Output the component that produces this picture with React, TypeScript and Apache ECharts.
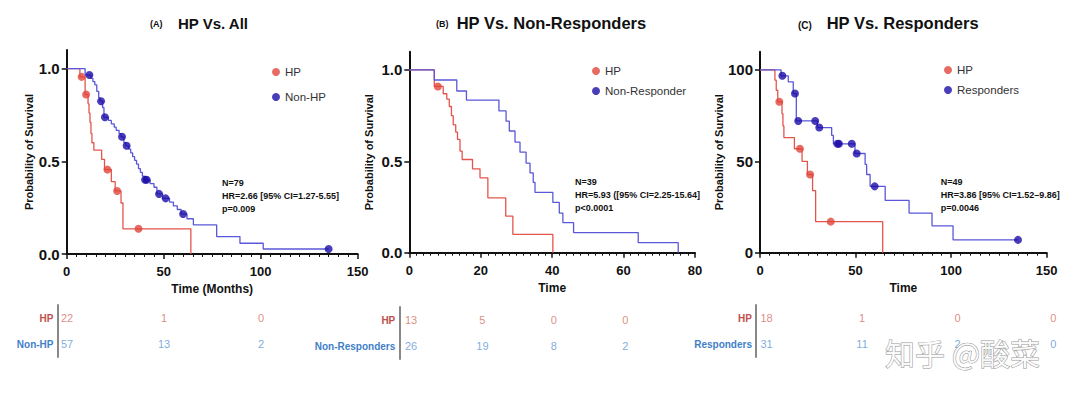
import React, { useEffect, useRef } from "react";
import * as echarts from "echarts";

const FONT = '"Liberation Sans", Arial, Helvetica, sans-serif';

// ---------- Panel A: HP vs All ----------
const aHpCurve = [[0,1],[6.8,0.955],[9.5,0.86],[11,0.81],[11.5,0.76],[12,0.71],[12.5,0.65],[13,0.60],[14,0.56],[18,0.51],[19.5,0.455],[23,0.39],[25,0.34],[28,0.275],[29,0.136],[64,0]];
const aHpCensor = [[7.7,0.955],[10,0.86],[21,0.455],[26,0.34],[37,0.136]];
const aNonHpCurve = [[0,1],[9.5,0.965],[12.5,0.947],[13.5,0.93],[14.5,0.912],[15.5,0.877],[16.5,0.842],[17.2,0.824],[18.5,0.79],[19.2,0.737],[21.5,0.72],[23,0.702],[24.5,0.684],[25.5,0.667],[27,0.649],[28,0.632],[29.5,0.6],[30.5,0.584],[32,0.565],[33,0.545],[34,0.525],[35,0.505],[36,0.485],[37,0.46],[38,0.44],[39,0.42],[40,0.40],[43,0.38],[45,0.36],[46.5,0.324],[49.5,0.30],[53,0.28],[55,0.26],[57,0.24],[59,0.216],[62,0.19],[65.3,0.157],[77.3,0.094],[89.3,0.058],[101.3,0.027],[135,0.027]];
const aNonHpCensor = [[11.7,0.965],[17.7,0.824],[19.7,0.737],[28.5,0.632],[30.9,0.584],[40.4,0.40],[41.2,0.40],[47.6,0.324],[51,0.30],[60,0.216],[135,0.027]];
const riskTimesA = [0, 50, 100];
const riskA_HP = [22, 1, 0];
const riskA_NonHP = [57, 13, 2];

// ---------- Panel B: HP vs Non-Responders ----------
const bHpCurve = [[0,1],[7,0.91],[9.5,0.87],[10.5,0.84],[11.2,0.80],[11.8,0.75],[12.3,0.70],[13,0.66],[13.5,0.62],[14.2,0.556],[14.8,0.51],[17.7,0.459],[19.8,0.41],[22,0.30],[27,0.20],[29,0.10],[40.2,0]];
const bHpCensor = [[8,0.91]];
const bNonRespCurve = [[0,1],[7,0.945],[13.3,0.885],[16,0.835],[25.1,0.776],[27.1,0.72],[28,0.666],[29.6,0.605],[31,0.55],[32.7,0.49],[33.8,0.437],[34.7,0.385],[35.2,0.33],[40.2,0.275],[42,0.217],[43,0.165],[46,0.11],[64.1,0.055],[75.3,0]];
const riskTimesB = [0, 20, 40, 60];
const riskB_HP = [13, 5, 0, 0];
const riskB_NonResp = [26, 19, 8, 2];

// ---------- Panel C: HP vs Responders ----------
const cHpCurve = [[0,100],[7.8,94.4],[8.5,88.9],[9.3,82.6],[11.5,76],[12,69.4],[12.5,63],[18,56.9],[22,50],[24.8,42.8],[27.5,34],[29.1,17],[64.2,0]];
const cHpCensor = [[10.1,82.6],[20.9,56.9],[26.2,42.8],[37,17]];
const cRespCurve = [[0,100],[11,96.8],[14.8,93.5],[17.4,87.1],[19,72.1],[30,68.5],[37.5,64.2],[38.4,59.6],[49.7,54.3],[55,48.3],[55.8,42.8],[57.6,36.3],[65.5,28.6],[78,21.7],[90,14.7],[101,7],[135,7]];
const cRespCensor = [[11.7,96.8],[18.3,87.1],[20,72.1],[28.9,72.1],[31,68.5],[40.5,59.6],[41.3,59.6],[48,59.6],[50.6,54.3],[60,36.3],[135,7]];
const riskTimesC = [0, 50, 100, 150];
const riskC_HP = [18, 1, 0, 0];
const riskC_Resp = [31, 11, 2, 0];

const RED_LINE = "#e5544b";
const RED_MARK = "#e0463c";
const BLUE_LINE = "#5a58d8";
const BLUE_MARK = "#1c0ca8";
const RISK_RED_LABEL = "#c0504d";
const RISK_RED_NUM = "#d4705f";
const RISK_BLUE_LABEL = "#3f7fc8";
const RISK_BLUE_NUM = "#5b95d6";

function plotX(grid: number, max: number, interval: number, minorSplit: number, name: string) {
  return {
    gridIndex: grid, type: "value", min: 0, max, interval,
    axisLine: { show: true, onZero: false, lineStyle: { color: "#111", width: 2 } },
    axisTick: { show: true, length: 5, lineStyle: { color: "#111", width: 1.5 } },
    minorTick: { show: true, splitNumber: minorSplit, length: 3, lineStyle: { color: "#111", width: 1 } },
    splitLine: { show: false }, minorSplitLine: { show: false },
    axisLabel: { fontSize: 13, fontWeight: "bold", color: "#111", margin: 11, fontFamily: FONT },
    name, nameLocation: "middle", nameGap: 28,
    nameTextStyle: { fontSize: 12, fontWeight: "bold", color: "#111", fontFamily: FONT },
  };
}

function plotY(grid: number, max: number, ticks: number[], dec: number, gap: number) {
  return {
    gridIndex: grid, type: "value", min: 0, max,
    axisLine: { show: true, onZero: false, lineStyle: { color: "#111", width: 2 } },
    axisTick: { show: true, length: 5, customValues: ticks, lineStyle: { color: "#111", width: 1.5 } },
    splitLine: { show: false },
    axisLabel: {
      customValues: ticks, formatter: (v: number) => v.toFixed(dec),
      fontSize: 15, fontWeight: "bold", color: "#111", margin: 7, fontFamily: FONT,
    },
    name: "Probability of Survival", nameLocation: "middle", nameGap: gap,
    nameTextStyle: { fontSize: 11, fontWeight: "bold", color: "#111", fontFamily: FONT },
  };
}

function riskX(grid: number, max: number) {
  return { gridIndex: grid, type: "value", min: 0, max, show: false };
}

function riskY(grid: number, labels: string[], offset: number) {
  return {
    gridIndex: grid, type: "category", data: labels, inverse: true, offset,
    axisLine: { show: true, onZero: false, lineStyle: { color: "#888", width: 2 } },
    axisTick: { show: false },
    splitLine: { show: false },
    axisLabel: {
      margin: 4, fontSize: 10, fontWeight: "bold", fontFamily: FONT,
      color: (v: string) => (v === "HP" ? RISK_RED_LABEL : RISK_BLUE_LABEL),
    },
  };
}

function curve(axis: number, data: number[][], color: string) {
  return {
    type: "line", xAxisIndex: axis, yAxisIndex: axis, data, step: "end",
    symbol: "none", lineStyle: { color, width: 1.3 }, silent: true, z: 2,
  };
}

function marks(axis: number, name: string, data: number[][], color: string) {
  return {
    type: "scatter", name, xAxisIndex: axis, yAxisIndex: axis, data,
    symbol: "circle", symbolSize: 8, itemStyle: { color }, silent: true, z: 3,
  };
}

function riskSeries(axis: number, times: number[], row: number, nums: number[], color: string) {
  return {
    type: "scatter", xAxisIndex: axis, yAxisIndex: axis,
    data: times.map((t, i) => [t, row, nums[i]]),
    symbol: "circle", symbolSize: 0.1, itemStyle: { color: "rgba(0,0,0,0)" }, silent: true,
    label: {
      show: true, position: "inside", color, fontSize: 11, fontFamily: FONT,
      formatter: (p: any) => String(p.value[2]),
    },
  };
}

function legend(left: number, top: number, gap: number, names: string[]) {
  return {
    data: names.map((n) => ({ name: n, icon: "circle" })),
    orient: "vertical", left, top, itemWidth: 8, itemHeight: 8, itemGap: gap,
    selectedMode: false,
    textStyle: { fontSize: 11.5, color: "#333", fontFamily: FONT },
  };
}

function txt(x: number, y: number, text: string, size: number, weight: string, extra: any = {}) {
  return {
    type: "text", x, y, silent: true,
    style: {
      text, fontSize: size, fontWeight: weight, fontFamily: FONT, fill: "#111",
      align: "left", verticalAlign: "middle", ...extra,
    },
  };
}

export default function App() {
  const ref = useRef<HTMLDivElement>(null);
  useEffect(() => {
    document.body.style.margin = "0";
    const chart = echarts.init(ref.current!, null, { renderer: "svg" });
    const option: any = {
      animation: false,
      backgroundColor: "#ffffff",
      textStyle: { fontFamily: FONT },
      grid: [
        { left: 66.7, top: 50, width: 291, height: 204 },
        { left: 409.3, top: 51.7, width: 285.7, height: 201 },
        { left: 760, top: 51.7, width: 286.7, height: 201 },
        { left: 67, top: 305, width: 291, height: 52 },
        { left: 411, top: 307, width: 285.7, height: 52 },
        { left: 766.5, top: 305, width: 286.7, height: 52 },
      ],
      xAxis: [
        plotX(0, 150, 50, 10, "Time (Months)"),
        plotX(1, 80, 20, 10, "Time"),
        plotX(2, 150, 50, 10, "Time"),
        riskX(3, 150),
        riskX(4, 80),
        riskX(5, 150),
      ],
      yAxis: [
        plotY(0, 1.1, [0, 0.5, 1], 1, 31),
        plotY(1, 1.1, [0, 0.5, 1], 1, 35),
        plotY(2, 110, [0, 50, 100], 0, 35),
        riskY(3, ["HP", "Non-HP"], 9.5),
        riskY(4, ["HP", "Non-Responders"], 11.7),
        riskY(5, ["HP", "Responders"], 10.5),
      ],
      legend: [
        legend(267, 61, 13, ["HP", "Non-HP"]),
        legend(587, 60, 8, ["HP", "Non-Responder"]),
        legend(939, 59, 8, ["HP", "Responders"]),
      ],
      series: [
        curve(0, aHpCurve, RED_LINE),
        curve(0, aNonHpCurve, BLUE_LINE),
        marks(0, "HP", aHpCensor, RED_MARK),
        marks(0, "Non-HP", aNonHpCensor, BLUE_MARK),
        curve(1, bHpCurve, RED_LINE),
        curve(1, bNonRespCurve, BLUE_LINE),
        marks(1, "HP", bHpCensor, RED_MARK),
        marks(1, "Non-Responder", [], BLUE_MARK),
        curve(2, cHpCurve, RED_LINE),
        curve(2, cRespCurve, BLUE_LINE),
        marks(2, "HP", cHpCensor, RED_MARK),
        marks(2, "Responders", cRespCensor, BLUE_MARK),
        riskSeries(3, riskTimesA, 0, riskA_HP, RISK_RED_NUM),
        riskSeries(3, riskTimesA, 1, riskA_NonHP, RISK_BLUE_NUM),
        riskSeries(4, riskTimesB, 0, riskB_HP, RISK_RED_NUM),
        riskSeries(4, riskTimesB, 1, riskB_NonResp, RISK_BLUE_NUM),
        riskSeries(5, riskTimesC, 0, riskC_HP, RISK_RED_NUM),
        riskSeries(5, riskTimesC, 1, riskC_Resp, RISK_BLUE_NUM),
      ],
      graphic: [
        txt(150, 24, "(A)", 9, "bold"),
        txt(178, 23, "HP Vs. All", 15, "bold"),
        txt(436, 24, "(B)", 9, "bold"),
        txt(456.7, 23, "HP Vs. Non-Responders", 16.5, "bold"),
        txt(798, 25, "(C)", 10, "bold"),
        txt(826.7, 23, "HP Vs. Responders", 16.5, "bold"),
        txt(222, 176, "N=79\nHR=2.66 [95% CI=1.27-5.55]\np=0.009", 9, "bold", { verticalAlign: "top", lineHeight: 13 }),
        txt(575, 175.5, "N=39\nHR=5.93 ([95% CI=2.25-15.64]\np<0.0001", 9, "bold", { verticalAlign: "top", lineHeight: 13 }),
        txt(940.7, 175.5, "N=49\nHR=3.86 [95% CI=1.52–9.86]\np=0.0046", 9, "bold", { verticalAlign: "top", lineHeight: 13 }),
        {
          type: "text", x: 885, y: 352, z: 100, silent: true,
          style: {
            text: "知乎 @酸菜", fontSize: 30, fontFamily: '"Noto Sans CJK SC", sans-serif',
            fill: "rgba(255,255,255,0.9)", stroke: "rgba(110,110,110,0.75)", lineWidth: 1,
            align: "left", verticalAlign: "middle",
          },
        },
      ],
    };
    chart.setOption(option);
    return () => chart.dispose();
  }, []);
  return <div ref={ref} style={{ width: 1080, height: 399 }} />;
}
